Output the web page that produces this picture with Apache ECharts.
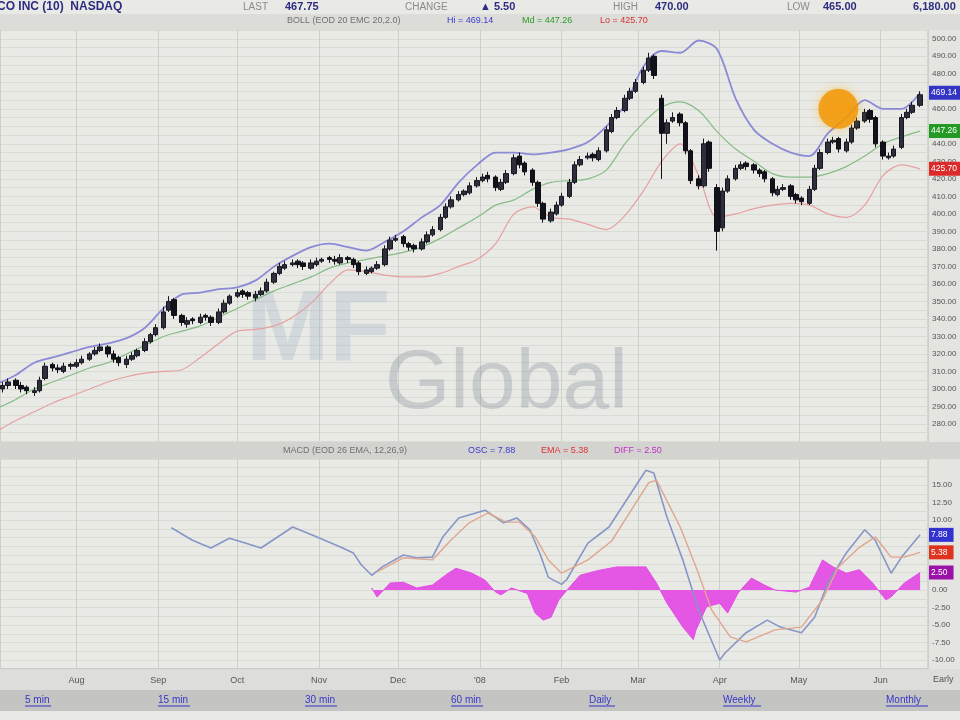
<!DOCTYPE html>
<html><head><meta charset="utf-8">
<script src="https://cdn.jsdelivr.net/npm/echarts@6/dist/echarts.min.js"></script>
<style>html,body{margin:0;padding:0;background:#e4e5e1;}#c{width:960px;height:720px;}</style>
</head><body><div id="c"></div><script>
// ---------- data ----------
const candleDates = [
'2007-07-04','2007-07-06',
'2007-07-09','2007-07-11','2007-07-13','2007-07-16','2007-07-18','2007-07-20',
'2007-07-23','2007-07-25','2007-07-27','2007-07-30','2007-08-01','2007-08-03',
'2007-08-06','2007-08-08','2007-08-10','2007-08-13','2007-08-15','2007-08-17',
'2007-08-20','2007-08-22','2007-08-24','2007-08-27','2007-08-29','2007-08-31',
'2007-09-03','2007-09-05','2007-09-07','2007-09-10','2007-09-12','2007-09-14',
'2007-09-17','2007-09-19','2007-09-21','2007-09-24','2007-09-26','2007-09-28',
'2007-10-01','2007-10-03','2007-10-05','2007-10-08','2007-10-10','2007-10-12',
'2007-10-15','2007-10-17','2007-10-19','2007-10-22','2007-10-24','2007-10-26',
'2007-10-29','2007-10-31','2007-11-02','2007-11-05','2007-11-07','2007-11-09',
'2007-11-12','2007-11-14','2007-11-16','2007-11-19','2007-11-21','2007-11-23',
'2007-11-26','2007-11-28','2007-11-30','2007-12-03','2007-12-05','2007-12-07',
'2007-12-10','2007-12-12','2007-12-14','2007-12-17','2007-12-19','2007-12-21',
'2007-12-24','2007-12-26','2007-12-28','2007-12-31','2008-01-02','2008-01-04',
'2008-01-07','2008-01-09','2008-01-11','2008-01-14','2008-01-16','2008-01-18',
'2008-01-21','2008-01-23','2008-01-25','2008-01-28','2008-01-30','2008-02-01',
'2008-02-04','2008-02-06','2008-02-08','2008-02-11','2008-02-13','2008-02-15',
'2008-02-18','2008-02-20','2008-02-22','2008-02-25','2008-02-27','2008-02-29',
'2008-03-03','2008-03-05','2008-03-07','2008-03-10','2008-03-12','2008-03-14',
'2008-03-17','2008-03-19','2008-03-21','2008-03-24','2008-03-26','2008-03-28',
'2008-03-31','2008-04-02','2008-04-04','2008-04-07','2008-04-09','2008-04-11',
'2008-04-14','2008-04-16','2008-04-18','2008-04-21','2008-04-23','2008-04-25',
'2008-04-28','2008-04-30','2008-05-02','2008-05-05','2008-05-07','2008-05-09',
'2008-05-12','2008-05-14','2008-05-16','2008-05-19','2008-05-21','2008-05-23',
'2008-05-26','2008-05-28','2008-05-30','2008-06-02','2008-06-04','2008-06-06',
'2008-06-09','2008-06-11','2008-06-13','2008-06-16'];
const candleOpen = [
300,302,305,302,301,298,299,306,314,312, 310,313,313,315,317,320,322,324,320,318,
314,317,319,322,327,331,335,345,351,342, 337,340,338,342,341,338,344,349,353,356,
355,352,354,356,361,366,369,371,373,372, 369,371,373,375,374,372,375,374,372,366,
367,369,371,380,385,387,383,382,380,384, 388,391,398,404,408,411,412,416,419,422,
421,414,418,423,433,429,425,418,406,396, 400,405,410,418,428,432,434,431,436,447,
455,459,466,470,475,482,490,466,446,453, 457,452,436,420,416,441,415,392,413,420,
426,429,428,425,424,420,411,414,416,411, 409,406,414,426,435,441,443,436,441,449,
453,459,455,441,432,433,438,455,458,462];
const candleClose = [
302,304,302,300,299,299,305,313,312,311, 313,314,315,317,320,322,324,320,317,315,
317,319,322,327,331,335,344,350,342,338, 339,339,341,341,338,344,349,353,355,354,
353,354,356,361,366,370,371,372,371,370, 372,373,374,374,373,375,374,371,367,368,
369,371,380,385,386,383,381,380,384,388, 391,398,404,408,411,413,416,419,421,420,
415,418,423,432,428,424,418,406,397,401, 405,410,418,428,431,433,432,436,448,455,
459,466,470,475,482,489,479,446,452,455, 452,436,419,416,440,426,390,413,420,426,
428,427,425,423,420,412,414,415,410,408, 407,414,426,435,441,442,437,441,449,453,
458,454,440,433,433,437,455,458,462,468];
const candleLow = [
298,300,300,298,297,296,298,305,310,309, 309,311,312,314,316,319,321,318,315,313,
312,316,318,321,326,330,334,344,340,336, 335,337,337,339,336,337,343,348,352,352,
351,350,353,355,360,365,368,370,369,368, 368,370,372,372,371,371,372,369,365,365,
366,368,370,379,384,381,379,378,379,383, 387,390,397,403,407,410,411,415,418,418,
413,413,417,422,426,422,416,404,395,395, 399,404,409,417,427,431,430,430,435,446,
454,458,465,469,474,481,477,420,440,452, 450,434,417,414,415,424,379,390,412,419,
425,425,423,421,418,410,410,413,408,406, 405,405,413,425,434,440,435,435,440,448,
452,452,438,431,431,432,437,454,457,461];
const candleHigh = [
304,306,306,304,302,301,307,315,315,314, 315,315,317,319,321,324,326,325,322,319,
319,321,323,329,332,337,347,353,352,343, 341,341,343,343,342,346,351,354,357,357,
356,356,358,363,367,372,373,374,374,373, 374,375,375,376,376,377,376,375,373,370,
370,373,382,387,388,388,384,383,386,390, 393,400,406,410,413,414,418,421,423,424,
422,420,425,434,435,430,426,419,407,403, 407,412,420,430,433,435,435,438,450,457,
461,468,472,477,484,492,491,468,454,458, 458,453,437,422,443,442,417,415,422,428,
430,430,429,426,425,421,416,417,417,412, 410,416,428,437,443,444,444,443,451,455,
460,460,456,442,435,439,457,460,464,470];

const bandDates = [
'2007-07-02','2007-07-09','2007-07-16','2007-07-23','2007-07-30','2007-08-06','2007-08-13',
'2007-08-20','2007-08-27','2007-09-03','2007-09-10','2007-09-17','2007-09-24','2007-10-01',
'2007-10-08','2007-10-15','2007-10-22','2007-10-29','2007-11-05','2007-11-12','2007-11-19',
'2007-11-26','2007-12-03','2007-12-10','2007-12-17','2007-12-24','2007-12-31','2008-01-07',
'2008-01-14','2008-01-21','2008-01-28','2008-02-04','2008-02-11','2008-02-18','2008-02-25',
'2008-03-03','2008-03-10','2008-03-17','2008-03-24','2008-03-31','2008-04-07','2008-04-14',
'2008-04-21','2008-04-28','2008-05-05','2008-05-12','2008-05-19','2008-05-26','2008-06-02',
'2008-06-09','2008-06-16'];
const bollUpper = [303,308,315,318,321,324,326,329,335,346, 354,355,357,358,362,370,376,381,383,381,
379,384,390,398,405,418,428,435,435,434, 435,437,441,450,462,484,493,492,499,494,
466,448,440,435,433,446,455,465,460,460,469.14];
const bollMiddle = [289,294,300,304,308,312,315,320,325,330, 333,336,341,346,351,356,360,364,369,372,
374,376,378,381,386,392,398,405,408,414, 418,419,420,425,440,452,461,464,459,447,
437,430,423,421,421,423,427,433,440,444,447.26];
const bollLower = [276,282,287,292,296,300,304,307,309,310, 311,318,326,333,334,336,341,349,360,368,
367,365,364,364,366,370,374,383,400,404, 398,397,394,391,399,413,430,440,422,398,
400,403,405,406,405,400,398,405,422,428,425.70];

const macdDates = ['2007-09-06','2007-09-14','2007-09-21','2007-09-28','2007-10-04','2007-10-10',
'2007-10-22','2007-10-31','2007-11-10','2007-11-14','2007-11-17','2007-11-21','2007-11-25',
'2007-12-03','2007-12-08','2007-12-14','2007-12-18','2007-12-24','2008-01-03','2008-01-10',
'2008-01-15','2008-01-20','2008-01-24','2008-01-27','2008-02-01','2008-02-03','2008-02-11',
'2008-02-19','2008-03-04','2008-03-07','2008-03-12','2008-03-18','2008-03-24','2008-04-01',
'2008-04-03','2008-04-11','2008-04-19','2008-04-24','2008-05-02','2008-05-07','2008-05-12',
'2008-05-19','2008-05-26','2008-05-30','2008-06-05','2008-06-09','2008-06-16'];
const macdValues = [8.9,7.1,6.0,7.4,6.7,6.0,9.0,7.6,6.0,5.3, 3.6,2.1,3.3,5.0,4.6,4.7,7.6,10.3,11.4,9.6,
10.3,8.6,5.0,1.8,0.8,1.5,6.7,9.0,17.1,16.7, 10.4,4.3,-2.9,-10.0,-9.0,-6.1,-4.3,-5.3,-6.1,-3.9,
1.0,5.3,8.6,7.1,2.4,4.7,7.88];
const signalDates = ['2007-11-23','2007-12-03','2007-12-14','2007-12-21','2007-12-28','2008-01-04',
'2008-01-11','2008-01-16','2008-01-22','2008-01-27','2008-02-01','2008-02-11','2008-02-20',
'2008-03-05','2008-03-08','2008-03-17','2008-03-23','2008-03-29','2008-04-05','2008-04-11',
'2008-04-22','2008-05-02','2008-05-10','2008-05-16','2008-05-24','2008-05-30','2008-06-05',
'2008-06-10','2008-06-16'];
const signalValues = [2.6,4.6,4.3,7.1,9.6,11.0,9.7,9.7,7.6,4.3, 2.4,4.3,7.0,15.3,15.7,9.0,3.3,-2.9,-6.7,-7.4,
-5.7,-5.3,-1.4,3.3,6.1,7.6,4.7,4.7,5.38];
const histDates = ['2007-11-21','2007-11-23','2007-11-28','2007-12-03','2007-12-08','2007-12-14',
'2007-12-20','2007-12-23','2007-12-29','2008-01-03','2008-01-07','2008-01-09','2008-01-13',
'2008-01-19','2008-01-22','2008-01-25','2008-01-28','2008-01-31','2008-02-04','2008-02-08',
'2008-02-15','2008-02-22','2008-03-04','2008-03-08','2008-03-12','2008-03-18','2008-03-22',
'2008-03-23','2008-03-27','2008-04-01','2008-04-04','2008-04-08','2008-04-13','2008-04-18',
'2008-04-22','2008-04-30','2008-05-05','2008-05-10','2008-05-14','2008-05-19','2008-05-24',
'2008-05-29','2008-06-03','2008-06-05','2008-06-10','2008-06-16'];
const histValues = [0.3,-1.0,1.0,1.1,0.3,0.7,2.4,3.1,2.4,1.4, -0.3,-0.7,0.3,-0.5,-3.3,-4.3,-3.9,-1.4,0.4,2.1,
2.8,3.3,3.3,1.0,-1.9,-5.3,-7.1,-5.7,-2.4,-1.9, -3.3,-0.4,1.7,0.7,0,-0.3,0.4,4.3,3.3,2.4,
2.9,1.0,-1.4,-1.0,1.0,2.5];

const highlightPoint = ['2008-05-16', 460];
const lastValues = {upper: 469.14, middle: 447.26, lower: 425.70, macd: 7.88, signal: 5.38, diff: 2.50};
const monthNames = ['Jan','Feb','Mar','Apr','May','Jun','Jul','Aug','Sep','Oct','Nov','Dec'];
const yearLabel = "'08";
const linkLabels = ['5 min','15 min','30 min','60 min','Daily','Weekly','Monthly'];

// ---------- build ----------
const pair = (d, v) => d.map((x, i) => [x, v[i]]);
const candleData = candleDates.map((d, i) => [d, candleOpen[i], candleClose[i], candleLow[i], candleHigh[i]]);
const DAY = 86400000;
const FONT = 'Liberation Sans, Arial, sans-serif';

function boxItem(value, bg) {
  return {yAxis: value,
    lineStyle: {color: 'rgba(0,0,0,0)', width: 0, opacity: 1},
    label: {show: true, position: 'end', distance: 1, formatter: value.toFixed(2), opacity: 1,
      backgroundColor: bg, color: '#ffffff', fontSize: 8.5, fontFamily: FONT, padding: [3, 6, 2, 2]}};
}
function boxMarks(items) {
  return {silent: true, symbol: 'none', animation: false,
    lineStyle: {color: 'rgba(0,0,0,0)', width: 0, opacity: 1}, data: items};
}

const xCommon = {
  type: 'time', min: '2007-07-03', max: '2008-06-19',
  minInterval: 28 * DAY, maxInterval: 31 * DAY,
  axisLine: {show: false}, axisTick: {show: false},
  splitLine: {show: true, lineStyle: {color: '#cdd0c9', width: 1}}
};

const chart = echarts.init(document.getElementById('c'), null, {renderer: 'canvas'});

function txt(x, y, text, color, size, weight, extra) {
  return Object.assign({type: 'text', x: x, y: y, silent: true, z: 10,
    style: {text: text, fill: color, fontSize: size, fontWeight: weight || 'normal',
      fontFamily: FONT, textVerticalAlign: 'middle'}}, extra || {});
}
const linkX = [25, 158, 305, 451, 589, 723, 886];
const linkW = [26, 32, 32, 32, 26, 38, 42];

const graphics = [
  {type: 'rect', shape: {x: 0, y: 0, width: 960, height: 14}, style: {fill: '#e9e9e6'}, silent: true, z: 0},
  {type: 'rect', shape: {x: 0, y: 14, width: 960, height: 16}, style: {fill: '#dcddd9'}, silent: true, z: 0},
  txt(-3, 7, 'CO INC (10)  NASDAQ', '#2c2c80', 12, 'bold'),
  txt(243, 7, 'LAST', '#8a8a8a', 10), txt(285, 7, '467.75', '#2c2c80', 11, 'bold'),
  txt(405, 7, 'CHANGE', '#8a8a8a', 10), txt(480, 7, '\u25B2 5.50', '#2c2c80', 11, 'bold'),
  txt(613, 7, 'HIGH', '#8a8a8a', 10), txt(655, 7, '470.00', '#2c2c80', 11, 'bold'),
  txt(787, 7, 'LOW', '#8a8a8a', 10), txt(823, 7, '465.00', '#2c2c80', 11, 'bold'),
  txt(913, 7, '6,180.00', '#2c2c80', 11, 'bold'),
  txt(287, 21, 'BOLL (EOD 20 EMC 20,2.0)', '#707070', 9),
  txt(447, 21, 'Hi = ' + lastValues.upper.toFixed(2), '#3a3ad0', 9),
  txt(522, 21, 'Md = ' + lastValues.middle.toFixed(2), '#2a9a2a', 9),
  txt(600, 21, 'Lo = ' + lastValues.lower.toFixed(2), '#d83030', 9),
  {type: 'rect', shape: {x: 0, y: 442, width: 960, height: 17}, style: {fill: '#d3d4d0'}, silent: true, z: 0},
  txt(283, 451, 'MACD (EOD 26 EMA, 12,26,9)', '#707070', 9),
  txt(468, 451, 'OSC = ' + lastValues.macd.toFixed(2), '#3a3ad0', 9),
  txt(541, 451, 'EMA = ' + lastValues.signal.toFixed(2), '#e03030', 9),
  txt(614, 451, 'DIFF = ' + lastValues.diff.toFixed(2), '#c030c0', 9),
  {type: 'rect', shape: {x: 0, y: 669, width: 960, height: 21}, style: {fill: '#dddedb'}, silent: true, z: 0},
  {type: 'rect', shape: {x: 0, y: 690, width: 960, height: 21}, style: {fill: '#c4c5c2'}, silent: true, z: 0},
  {type: 'rect', shape: {x: 0, y: 711, width: 960, height: 9}, style: {fill: '#e8e8e6'}, silent: true, z: 0},
  txt(933, 680, 'Early', '#555', 9),
  // watermark
  txt(246, 332, 'MF', 'rgba(160,176,196,0.30)', 100, 900, {z: 1}),
  txt(385, 385, 'Global', 'rgba(128,138,150,0.32)', 84, 'normal', {z: 1})
];
linkLabels.forEach((t, i) => {
  graphics.push(txt(linkX[i], 700, t, '#3535c8', 10));
  graphics.push({type: 'line', shape: {x1: linkX[i], y1: 706, x2: linkX[i] + linkW[i], y2: 706},
    style: {stroke: '#3535c8', lineWidth: 1}, silent: true, z: 10});
});

const option = {
  animation: false,
  backgroundColor: '#e4e5e1',
  graphic: graphics,
  grid: [
    {left: 0, right: 32, top: 30, height: 411.5, show: true, backgroundColor: '#e9eae5',
     borderColor: '#bfc1bc', borderWidth: 1, outerBoundsMode: 'none'},
    {left: 0, right: 32, top: 458.75, height: 210, show: true, backgroundColor: '#e9eae5',
     borderColor: '#bfc1bc', borderWidth: 1, outerBoundsMode: 'none'}
  ],
  xAxis: [
    Object.assign({gridIndex: 0, axisLabel: {show: false}}, xCommon),
    Object.assign({gridIndex: 1, axisLabel: {show: true, color: '#555', fontSize: 9, fontFamily: FONT, margin: 7,
      formatter: function (val) { const d = new Date(val); const m = d.getMonth(); return m === 0 ? yearLabel : monthNames[m]; }}}, xCommon)
  ],
  yAxis: [
    {gridIndex: 0, type: 'value', position: 'right', min: 270, max: 505, interval: 5,
     axisLine: {show: false}, axisTick: {show: false},
     splitLine: {lineStyle: {color: '#d9dbd5', width: 1}},
     axisLabel: {color: '#555', fontSize: 8, fontFamily: FONT, margin: 4,
       formatter: v => (v % 10 === 0 && v >= 280 && v <= 500) ? v.toFixed(2) : ''}},
    {gridIndex: 1, type: 'value', position: 'right', min: -11.25, max: 18.75, interval: 1.25,
     axisLine: {show: false}, axisTick: {show: false},
     splitLine: {lineStyle: {color: '#d9dbd5', width: 1}},
     axisLabel: {color: '#555', fontSize: 8, fontFamily: FONT, margin: 4,
       formatter: v => { const r = Math.round(v * 100) / 100; const k = r / 2.5;
         return (Math.abs(k - Math.round(k)) < 1e-6 && r >= -10 && r <= 15) ? r.toFixed(2) : ''; }}}
  ],
  series: [
    {type: 'candlestick', xAxisIndex: 0, yAxisIndex: 0, data: candleData, barWidth: 5, z: 3,
     itemStyle: {color: '#2e2e3c', color0: '#12121a', borderColor: '#16161f', borderColor0: '#0e0e14', borderWidth: 1}},
    {type: 'line', xAxisIndex: 0, yAxisIndex: 0, data: pair(bandDates, bollUpper), showSymbol: false, smooth: 0.3,
     clip: false, lineStyle: {color: '#8a8ad6', width: 1.8}, z: 2,
     markLine: boxMarks([boxItem(lastValues.upper, '#3434c4')])},
    {type: 'line', xAxisIndex: 0, yAxisIndex: 0, data: pair(bandDates, bollMiddle), showSymbol: false, smooth: 0.3,
     clip: false, lineStyle: {color: '#86bc86', width: 1.2}, z: 2,
     markLine: boxMarks([boxItem(lastValues.middle, '#239a23')])},
    {type: 'line', xAxisIndex: 0, yAxisIndex: 0, data: pair(bandDates, bollLower), showSymbol: false, smooth: 0.3,
     clip: false, lineStyle: {color: '#e6a0a0', width: 1.2}, z: 2,
     markLine: boxMarks([boxItem(lastValues.lower, '#dc2a2a')])},
    {type: 'scatter', xAxisIndex: 0, yAxisIndex: 0, data: [highlightPoint], symbolSize: 40, z: 5,
     itemStyle: {color: '#f29400', shadowBlur: 10, shadowColor: 'rgba(255,175,0,0.6)'}},
    {type: 'line', xAxisIndex: 1, yAxisIndex: 1, data: pair(histDates, histValues), showSymbol: false, clip: false,
     lineStyle: {color: '#e44ee4', width: 1}, areaStyle: {color: '#e44ee4', opacity: 0.95}, z: 2,
     markLine: boxMarks([boxItem(lastValues.diff, '#9a12a8')])},
    {type: 'line', xAxisIndex: 1, yAxisIndex: 1, data: pair(macdDates, macdValues), showSymbol: false, clip: false,
     lineStyle: {color: '#8796c6', width: 1.6}, z: 3,
     markLine: boxMarks([boxItem(lastValues.macd, '#3232d0')])},
    {type: 'line', xAxisIndex: 1, yAxisIndex: 1, data: pair(signalDates, signalValues), showSymbol: false, clip: false,
     lineStyle: {color: '#e0a68e', width: 1.4}, z: 3,
     markLine: boxMarks([boxItem(lastValues.signal, '#e0331f')])}
  ]
};
chart.setOption(option);
</script></body></html>
